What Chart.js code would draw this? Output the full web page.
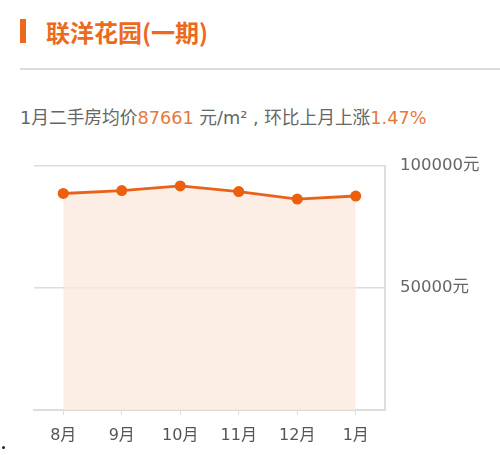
<!DOCTYPE html>
<html>
<head>
<meta charset="utf-8">
<script src="https://cdn.jsdelivr.net/npm/chart.js@4.4.0/dist/chart.umd.min.js"></script>
<style>
  html, body { margin:0; padding:0; background:#fff; width:500px; height:455px; overflow:hidden; font-family:"Noto Sans CJK SC", "Noto Sans", sans-serif; }
  #bar { position:absolute; left:20px; top:19px; width:6px; height:24px; background:#ec6a1d; }
  #title { position:absolute; left:46px; top:15px; font-size:24px; line-height:34px; font-weight:bold; color:#ec6a1d; white-space:nowrap; }
  #rule { position:absolute; left:20px; top:68px; width:480px; height:2px; background:#dcdcdc; }
  #sub { position:absolute; left:20px; top:105px; font-family:"DejaVu Sans", "Noto Sans CJK SC", sans-serif; font-size:17.7px; line-height:26px; color:#666; white-space:nowrap; }
  #sub .o { color:#e5793a; }
  #dot { position:absolute; left:2px; top:446px; width:3px; height:3px; border-radius:50%; background:#222; }
  #wrap { position:absolute; left:0; top:141px; width:500px; height:314px; }
</style>
</head>
<body>
<div id="bar"></div>
<div id="title">联洋花园(一期)</div>
<div id="rule"></div>
<div id="sub">1月二手房均价<span class="o">87661</span> 元/m² , 环比上月上涨<span class="o">1.47%</span></div>
<div id="dot"></div>
<div id="wrap"><canvas id="c" width="500" height="314"></canvas></div>
<script>
const categories = ["8月", "9月", "10月", "11月", "12月", "1月"];
const prices = [88700, 89900, 91800, 89500, 86391, 87661];
const yTicks = [50000, 100000];
const yUnit = "元";

const tickFont = '"DejaVu Sans", "Noto Sans CJK SC", sans-serif';

new Chart(document.getElementById('c'), {
  type: 'line',
  data: {
    labels: categories,
    datasets: [{
      data: prices,
      borderColor: '#e8621a',
      borderWidth: 2.8,
      backgroundColor: 'rgba(252,232,220,0.75)',
      fill: 'origin',
      tension: 0,
      pointRadius: 5.5,
      pointHoverRadius: 5.5,
      pointBackgroundColor: '#ec5f0f',
      pointBorderColor: '#ec5f0f',
      pointBorderWidth: 0
    }]
  },
  options: {
    responsive: false,
    animation: false,
    devicePixelRatio: 1,
    layout: { padding: { left: 34, top: 8, right: 0, bottom: 0 } },
    plugins: { legend: { display: false }, tooltip: { enabled: false } },
    scales: {
      x: {
        offset: true,
        grid: { display: true, drawOnChartArea: false, drawTicks: true, tickLength: 5, color: '#dddddd', lineWidth: 1 },
        border: { display: true, color: '#dddddd', width: 2 },
        ticks: { color: '#555', font: { size: 16, family: tickFont }, padding: 11, maxRotation: 0 },
        afterFit: s => { s.height = 45; }
      },
      y: {
        position: 'right',
        min: 0,
        max: 100000,
        afterBuildTicks: s => { s.ticks = yTicks.map(v => ({ value: v })); },
        grid: { color: '#dddddd', lineWidth: 1.5, drawTicks: false },
        border: { display: true, color: '#dddddd', width: 2 },
        ticks: { color: '#666', font: { size: 16.5, family: tickFont }, padding: 15, callback: v => v + yUnit },
        afterFit: s => { s.width = 115; }
      }
    }
  }
});
</script>
</body>
</html>
